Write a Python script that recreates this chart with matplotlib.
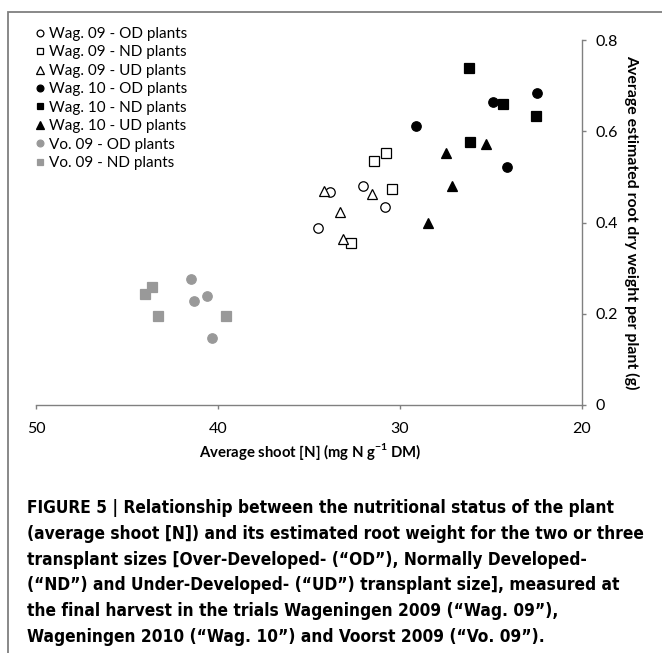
import matplotlib
matplotlib.use("Agg")
import matplotlib.pyplot as plt
from matplotlib.patches import Rectangle
from matplotlib import font_manager as fm

# ---- data ----
wag09_od_x = [34.52, 33.87, 32.06, 30.84]
wag09_od_y = [0.387, 0.466, 0.480, 0.435]
wag09_nd_x = [31.42, 30.79, 30.44, 32.71]
wag09_nd_y = [0.534, 0.552, 0.474, 0.354]
wag09_ud_x = [34.20, 31.55, 33.32, 33.13]
wag09_ud_y = [0.470, 0.462, 0.422, 0.363]
wag10_od_x = [29.12, 24.87, 22.46, 24.11]
wag10_od_y = [0.612, 0.664, 0.683, 0.522]
wag10_nd_x = [26.19, 24.32, 22.51, 26.15]
wag10_nd_y = [0.738, 0.659, 0.634, 0.577]
wag10_ud_x = [27.47, 25.29, 27.15, 28.47]
wag10_ud_y = [0.553, 0.572, 0.480, 0.398]
vo09_od_x = [41.51, 41.32, 40.60, 40.35]
vo09_od_y = [0.277, 0.229, 0.240, 0.146]
vo09_nd_x = [43.99, 43.60, 43.27, 39.58]
vo09_nd_y = [0.243, 0.259, 0.195, 0.195]

labels = ["Wag. 09 - OD plants", "Wag. 09 - ND plants", "Wag. 09 - UD plants",
          "Wag. 10 - OD plants", "Wag. 10 - ND plants", "Wag. 10 - UD plants",
          "Vo. 09 - OD plants", "Vo. 09 - ND plants"]
x_ticks = [50, 40, 30, 20]
y_ticks = [0, 0.2, 0.4, 0.6, 0.8]
y_ticklabels = ["0", "0.2", "0.4", "0.6", "0.8"]

caption_lines = [
    "FIGURE 5 | Relationship between the nutritional status of the plant",
    "(average shoot [N]) and its estimated root weight for the two or three",
    "transplant sizes [Over-Developed- (\u201cOD\u201d), Normally Developed-",
    "(\u201cND\u201d) and Under-Developed- (\u201cUD\u201d) transplant size], measured at",
    "the final harvest in the trials Wageningen 2009 (\u201cWag. 09\u201d),",
    "Wageningen 2010 (\u201cWag. 10\u201d) and Voorst 2009 (\u201cVo. 09\u201d).",
]


def has_font(name):
    try:
        fm.findfont(fm.FontProperties(family=name), fallback_to_default=False)
        return True
    except Exception:
        return False


plt.rcParams['font.family'] = ['Lato', 'DejaVu Sans']
plt.rcParams['mathtext.fontset'] = 'custom'
plt.rcParams['mathtext.rm'] = 'Lato'
plt.rcParams['mathtext.bf'] = 'Lato:bold'

W, H = 662, 653
fig = plt.figure(figsize=(W / 100, H / 100), dpi=100)
fig.patch.set_facecolor('white')

# outer frame
fig.add_artist(Rectangle((8 / W, -0.1), 1.2, 1 - 12 / H + 0.1, transform=fig.transFigure,
                         fill=False, edgecolor='#7f7f7f', linewidth=1.3))

ax = fig.add_axes([36 / W, 1 - 405 / H, (582 - 36) / W, (405 - 40) / H])

gray = '#999999'
ms = 6.8
series = [
    (wag09_od_x, wag09_od_y, 'o', 'white', 'black', ms),
    (wag09_nd_x, wag09_nd_y, 's', 'white', 'black', ms),
    (wag09_ud_x, wag09_ud_y, '^', 'white', 'black', ms + 0.6),
    (wag10_od_x, wag10_od_y, 'o', 'black', 'black', ms),
    (wag10_nd_x, wag10_nd_y, 's', 'black', 'black', ms),
    (wag10_ud_x, wag10_ud_y, '^', 'black', 'black', ms + 0.6),
    (vo09_od_x, vo09_od_y, 'o', gray, gray, ms),
    (vo09_nd_x, vo09_nd_y, 's', gray, gray, ms),
]
for (xs, ys, m, fc, ec, s), lab in zip(series, labels):
    ax.plot(xs, ys, linestyle='none', marker=m, markerfacecolor=fc,
            markeredgecolor=ec, markersize=s, markeredgewidth=0.9, label=lab)

ax.set_xlim(50, 20)
ax.set_ylim(0, 0.8)
ax.set_xticks(x_ticks)
ax.set_xticklabels([str(v) for v in x_ticks])
ax.set_yticks(y_ticks)
ax.set_yticklabels(y_ticklabels)

spc = '#808080'
for side in ['left', 'top']:
    ax.spines[side].set_visible(False)
for side in ['bottom', 'right']:
    ax.spines[side].set_color(spc)
    ax.spines[side].set_linewidth(1.0)
ax.yaxis.tick_right()
ax.tick_params(axis='both', direction='out', length=3, width=1.0, color=spc,
               labelsize=11.5, labelcolor='black')
ax.tick_params(axis='y', pad=7)
ax.tick_params(axis='x', pad=9)
ax.patch.set_alpha(0)

ax.yaxis.set_label_position('right')
ax.set_ylabel('Average estimated root dry weight per plant (g)', rotation=270,
              fontsize=11.4, fontweight='bold', labelpad=15)

xl = fig.text(310 / W, 1 - 452 / H, r'Average shoot [N] (mg N g$^{\mathbf{-1}}$ DM)',
              ha='center', va='center', fontsize=10.5, fontweight='bold')

leg = ax.legend(loc='upper left', bbox_to_anchor=(35 / W, 1 - 27 / H),
                bbox_transform=fig.transFigure, frameon=False, fontsize=11,
                markerscale=0.72, handlelength=0.7, handletextpad=0.2,
                labelspacing=0.29, borderpad=0, borderaxespad=0)

if has_font('Liberation Sans Narrow'):
    cap_kw = dict(family='Liberation Sans Narrow', fontweight='bold')
    cap_size = 13.3
else:
    cap_kw = dict(family='DejaVu Sans', fontweight='bold', fontstretch='condensed')
    cap_size = 12.3

baselines = [513, 539, 565, 590.5, 616, 642]
cap_texts = []
for line, yb in zip(caption_lines, baselines):
    cap_texts.append(fig.text(27 / W, 1 - yb / H, line, ha='left', va='baseline',
                              fontsize=cap_size, **cap_kw))

# fit caption width (line 1 spans ~590 px) and x label width (~224 px)
fig.canvas.draw()
r = fig.canvas.get_renderer()
w1 = cap_texts[0].get_window_extent(r).width
new_size = cap_size * 590.0 / w1
for t in cap_texts:
    t.set_fontsize(new_size)
wx = xl.get_window_extent(r).width
xl.set_fontsize(10.5 * 224.0 / wx)

fig.savefig('out.png', dpi=100, facecolor='white')
